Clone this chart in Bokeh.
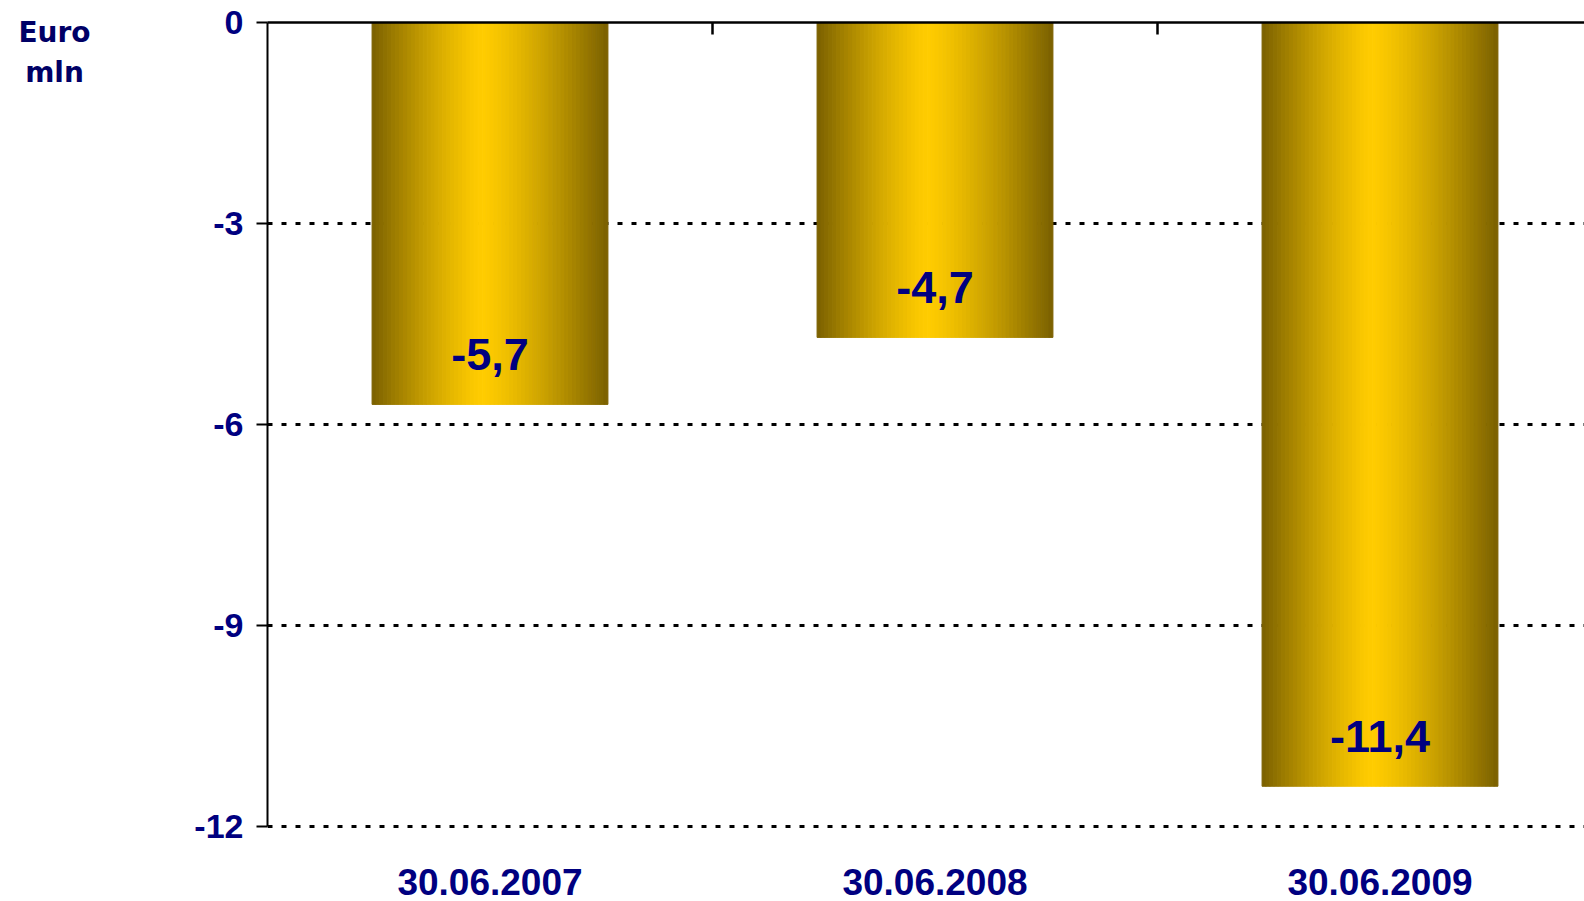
import numpy as np
from bokeh.plotting import figure
from bokeh.models import Range1d, FixedTicker, Label, LinearAxis, ColumnDataSource
from bokeh.embed import file_html
from bokeh.resources import INLINE
from bokeh.core.properties import value

# ---- data ----
categories = ["30.06.2007", "30.06.2008", "30.06.2009"]
values = [-5.7, -4.7, -11.4]
value_labels = ["-5,7", "-4,7", "-11,4"]
y_ticks = [0, -3, -6, -9, -12]
unit_lines = ["Euro", "mln"]

# ---- style / layout ----
W, H = 1584, 901
BORDER_L, BORDER_T, BORDER_B = 267, 22, 71
Y_PAD = 0.06
CAT_PX = 445.0
BAR_W = 0.53
N_STRIPS = 60
EDGE = np.array([122, 96, 0], dtype=float)
CENTER = np.array([255, 204, 0], dtype=float)
PEAK = 0.47
NAVY = "#000080"
FONT = "Liberation Sans"

y_lo, y_hi = min(y_ticks) - Y_PAD, max(y_ticks)
frame_w = W - BORDER_L
frame_h = H - BORDER_T - BORDER_B
px_per_unit = frame_h / (y_hi - y_lo)
x_end = frame_w / CAT_PX

p = figure(width=W, height=H, output_backend="svg", toolbar_location=None,
           x_range=Range1d(0, x_end), y_range=Range1d(y_lo, y_hi),
           x_axis_location="above", y_axis_location="left",
           min_border_left=BORDER_L, min_border_right=0,
           min_border_top=BORDER_T, min_border_bottom=BORDER_B,
           background_fill_color="white", border_fill_color="white")
p.outline_line_color = None

# gradient bars built from narrow strips
xs, ws, bots, cols = [], [], [], []
sw = BAR_W / N_STRIPS
for i, v in enumerate(values):
    left = i + 0.5 - BAR_W / 2
    for k in range(N_STRIPS):
        f = (k + 0.5) / N_STRIPS
        t = (PEAK - f) / PEAK if f < PEAK else (f - PEAK) / (1 - PEAK)
        t = t ** 1.3
        c = CENTER * (1 - t) + EDGE * t
        xs.append(left + (k + 0.5) * sw)
        ws.append(sw)
        bots.append(v)
        cols.append("#%02x%02x%02x" % tuple(int(round(a)) for a in c))
src = ColumnDataSource(dict(x=xs, w=ws, b=bots, c=cols))
p.vbar(x="x", width="w", top=0, bottom="b", fill_color="c", line_color="c",
       line_width=1, source=src)

# value labels
vsrc = ColumnDataSource(dict(x=[i + 0.5 for i in range(len(values))], y=values, t=value_labels))
p.text(x="x", y="y", text="t", source=vsrc, text_align="center", text_baseline="middle",
       y_offset=-50, text_font=value(FONT), text_font_style="bold",
       text_font_size="45px", text_color=NAVY)

# unit label, placed in the left side panel so that it is not clipped
unit_x = -(BORDER_L - 54) / CAT_PX
for line, ypx in zip(unit_lines, [32, 72]):
    p.add_layout(Label(x=unit_x, y=-(ypx - BORDER_T) / px_per_unit, text=line,
                       text_align="center", text_baseline="middle",
                       text_font="DejaVu Sans", text_font_style="bold",
                       text_font_size="28px", text_color="#000066"), "left")

# grid
p.xgrid.visible = False
p.ygrid.ticker = FixedTicker(ticks=[t for t in y_ticks if t != 0])
p.ygrid.grid_line_color = "black"
p.ygrid.grid_line_width = 3
p.ygrid.grid_line_dash = "5 9"

# top axis (category separators)
xa = p.xaxis[0]
xa.ticker = FixedTicker(ticks=list(range(1, len(categories))))
xa.major_label_text_font_size = "0px"
xa.major_label_standoff = 0
xa.major_tick_in = 12
xa.major_tick_out = 0
xa.minor_tick_line_color = None
xa.axis_line_width = 2.5
xa.major_tick_line_width = 2.5
xa.axis_line_color = "black"
xa.major_tick_line_color = "black"

# bottom axis: category labels
cat_pos = [i + 0.5 for i in range(len(categories))]
xb = LinearAxis(ticker=FixedTicker(ticks=cat_pos),
                major_label_overrides={pos: c for pos, c in zip(cat_pos, categories)})
xb.axis_line_color = None
xb.major_tick_line_color = None
xb.minor_tick_line_color = None
xb.major_tick_in = 0
xb.major_tick_out = 0
xb.major_label_standoff = 38
xb.major_label_text_font = FONT
xb.major_label_text_font_style = "bold"
xb.major_label_text_font_size = "37px"
xb.major_label_text_color = NAVY
p.add_layout(xb, "below")

# left axis
ya = p.yaxis[0]
ya.ticker = FixedTicker(ticks=y_ticks)
ya.bounds = (min(y_ticks), max(y_ticks))
ya.major_label_overrides = {t: str(t) for t in y_ticks}
ya.major_tick_in = 0
ya.major_tick_out = 11
ya.minor_tick_line_color = None
ya.axis_line_width = 2
ya.major_tick_line_width = 2
ya.axis_line_color = "black"
ya.major_tick_line_color = "black"
ya.major_label_standoff = 13
ya.major_label_text_font = FONT
ya.major_label_text_font_style = "bold"
ya.major_label_text_font_size = "34px"
ya.major_label_text_color = NAVY

open("out.html", "w").write(file_html(p, INLINE))
